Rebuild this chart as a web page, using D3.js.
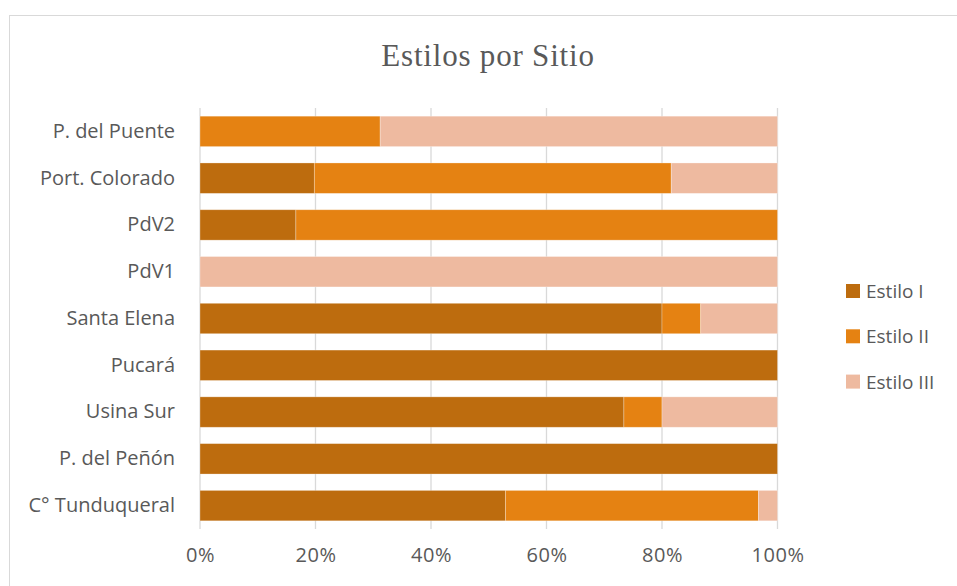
<!DOCTYPE html>
<html>
<head>
<meta charset="utf-8">
<script src="https://cdn.jsdelivr.net/npm/d3@7"></script>
<style>
  body { margin: 0; background: #fff; }
  text { font-family: "Open Sans", sans-serif; fill: #595959; }
</style>
</head>
<body>
<svg id="chart" width="957" height="586"></svg>
<script>
// Data: share (%) of each style per site, top to bottom
const sites = ['P. del Puente', 'Port. Colorado', 'PdV2', 'PdV1', 'Santa Elena',
               'Pucará', 'Usina Sur', 'P. del Peñón', 'C° Tunduqueral'];
const estilo1 = [0, 19.8, 16.6, 0, 80, 100, 73.4, 100, 52.9];
const estilo2 = [31.2, 61.8, 83.4, 0, 6.7, 0, 6.6, 0, 43.8];
const estilo3 = [68.8, 18.4, 0, 100, 13.3, 0, 20, 0, 3.3];
const seriesNames = ['Estilo I', 'Estilo II', 'Estilo III'];
const colors = ['#BD6C0E', '#E58212', '#EEBAA0'];
const xTicks = [0, 20, 40, 60, 80, 100];

const svg = d3.select('#chart');

// chart frame
svg.append('rect')
  .attr('x', 9.5).attr('y', 15.5)
  .attr('width', 960).attr('height', 600)
  .attr('fill', 'none').attr('stroke', '#d9d9d9');

// title
svg.append('text')
  .attr('x', 488).attr('y', 66)
  .attr('text-anchor', 'middle')
  .style('font-family', '"Liberation Serif", serif')
  .style('letter-spacing', '0.8px')
  .attr('font-size', 31)
  .text('Estilos por Sitio');

const x = d3.scaleLinear().domain([0, 100]).range([200, 777.5]);
const y = d3.scaleBand().domain(sites).range([108, 529]).paddingInner(0.35).paddingOuter(0.175);

// gridlines
svg.append('g').selectAll('line').data(xTicks)
  .enter().append('line')
  .attr('x1', d => x(d)).attr('x2', d => x(d))
  .attr('y1', 108).attr('y2', 529)
  .attr('stroke', '#d9d9d9').attr('stroke-width', 1.3);

// stacked bars
const rows = sites.map((s, i) => ({site: s, 'Estilo I': estilo1[i], 'Estilo II': estilo2[i], 'Estilo III': estilo3[i]}));
const stack = d3.stack().keys(seriesNames)(rows);

svg.append('g').selectAll('g').data(stack)
  .enter().append('g')
  .attr('fill', (d, i) => colors[i])
  .selectAll('rect').data(d => d)
  .enter().append('rect')
  .attr('x', d => x(d[0]))
  .attr('width', d => x(d[1]) - x(d[0]))
  .attr('y', d => y(d.data.site))
  .attr('height', y.bandwidth())
  .attr('stroke', d => (d[1] - d[0]) > 0 ? 'rgba(255,255,255,0.35)' : 'none')
  .attr('stroke-width', 0.8);

// x axis labels
const xAxis = svg.append('g')
  .attr('transform', 'translate(0,529)')
  .call(d3.axisBottom(x).tickValues(xTicks).tickFormat(d => d + '%').tickSize(0).tickPadding(19));
xAxis.select('.domain').remove();
xAxis.selectAll('text').attr('font-size', 20).style('fill', '#595959')
  .style('font-family', '"Open Sans", sans-serif')
  .style('letter-spacing', '0.6px');

// y axis labels
const yAxis = svg.append('g')
  .attr('transform', 'translate(200,0)')
  .call(d3.axisLeft(y).tickSize(0).tickPadding(25));
yAxis.select('.domain').remove();
yAxis.selectAll('text').attr('font-size', 20).style('fill', '#595959')
  .style('font-family', '"Open Sans", sans-serif');

// legend
const legend = svg.append('g').attr('transform', 'translate(846,284)');
seriesNames.forEach((name, i) => {
  const g = legend.append('g').attr('transform', `translate(0, ${i * 45.3})`);
  g.append('rect').attr('width', 14).attr('height', 14).attr('fill', colors[i]);
  g.append('text').attr('x', 20).attr('y', 14).attr('font-size', 19).text(name);
});
</script>
</body>
</html>
